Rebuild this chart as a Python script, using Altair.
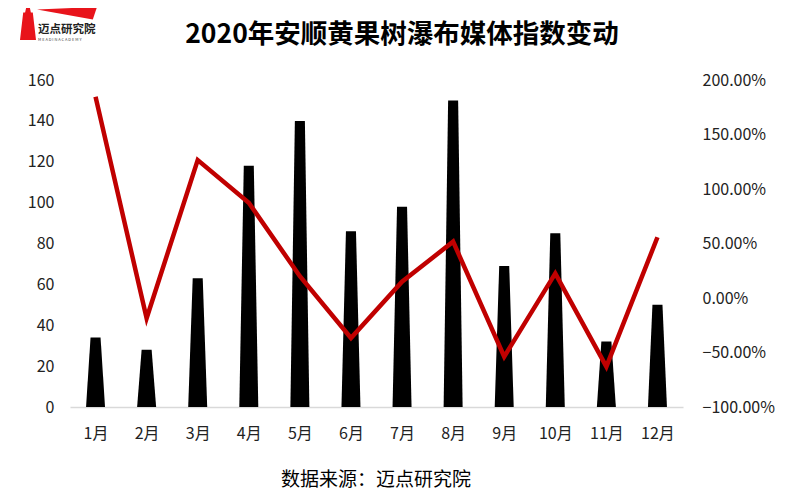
import altair as alt
import pandas as pd

months = ["1月", "2月", "3月", "4月", "5月", "6月", "7月", "8月", "9月", "10月", "11月", "12月"]
media_index = [34, 28, 63, 118, 140, 86, 98, 150, 69, 85, 32, 50]
change_rate = [1.847, -0.186, 1.266, 0.874, 0.20, -0.367, 0.15, 0.517, -0.538, 0.226, -0.63, 0.557]
left_ticks = [0, 20, 40, 60, 80, 100, 120, 140, 160]
right_ticks = [-1.0, -0.5, 0.0, 0.5, 1.0, 1.5, 2.0]

title_text = "2020年安顺黄果树瀑布媒体指数变动"
source_text = "数据来源：迈点研究院"
logo_text = "迈点研究院"

FONT = "Noto Sans CJK SC"
BOTTOM_HALF = 0.186
TOP_HALF = 0.098

idx = list(range(1, len(months) + 1))

# trapezoid bars: two rows per month (base and top)
rows = []
for i, m, v in zip(idx, months, media_index):
    rows.append({"month": m, "y": 0, "left": i - BOTTOM_HALF, "right": i + BOTTOM_HALF})
    rows.append({"month": m, "y": v, "left": i - TOP_HALF, "right": i + TOP_HALF})
bars_df = pd.DataFrame(rows)

line_df = pd.DataFrame({"month": months, "idx": idx, "rate": change_rate})

xscale = alt.Scale(domain=[0.5, 12.5], nice=False, zero=False)


def xaxis():
    return alt.Axis(values=idx, labelExpr="datum.value + '月'", title=None, ticks=False,
                    grid=False, domainColor="#d9d9d9", domainWidth=1.5, labelFontSize=16,
                    labelColor="#222222", labelFont=FONT, labelPadding=18)


bars = alt.Chart(bars_df).mark_area(orient="horizontal", color="#000000").encode(
    y=alt.Y("y:Q", stack=None, scale=alt.Scale(domain=[0, 160], nice=False),
            axis=alt.Axis(values=left_ticks, title=None, ticks=False, domain=False, grid=False,
                          labelFontSize=16, labelColor="#222222", labelFont=FONT, labelPadding=16)),
    x=alt.X("left:Q", stack=None, scale=xscale, axis=xaxis()),
    x2="right:Q",
    detail="month:N",
)

line = alt.Chart(line_df).mark_line(color="#C00000", strokeWidth=4.5).encode(
    x=alt.X("idx:Q", scale=xscale, axis=xaxis()),
    y=alt.Y("rate:Q", scale=alt.Scale(domain=[-1, 2], nice=False),
            axis=alt.Axis(values=right_ticks, format=".2%", orient="right", title=None,
                          ticks=False, domain=False, grid=False, labelFontSize=16,
                          labelColor="#222222", labelFont=FONT, labelPadding=19)),
)

one = pd.DataFrame({"a": [0]})

title = alt.Chart(pd.DataFrame({"t": [title_text]})).mark_text(
    fontSize=26.5, fontWeight="bold", font=FONT, color="#000000", align="center", baseline="middle"
).encode(text="t:N", x=alt.value(332), y=alt.value(-45))

source = alt.Chart(pd.DataFrame({"t": [source_text]})).mark_text(
    fontSize=19, font=FONT, color="#000000", align="center", baseline="middle"
).encode(text="t:N", x=alt.value(306), y=alt.value(400))

logo = alt.Chart(pd.DataFrame({"t": [logo_text]})).mark_text(
    fontSize=11.5, fontWeight="bold", font=FONT, color="#222222", align="left", baseline="middle"
).encode(text="t:N", x=alt.value(-32), y=alt.value(-50))

logo_sub = alt.Chart(pd.DataFrame({"t": ["M E A D I N   A C A D E M Y"]})).mark_text(
    fontSize=4, font=FONT, color="#444444", align="left", baseline="middle"
).encode(text="t:N", x=alt.value(-32), y=alt.value(-40))

swoosh = alt.Chart(one).mark_point(
    shape="M-1,-0.12 L1,-0.2 L0.86,0.22 Z", filled=True, opacity=1, color="#E8141B", size=3600
).encode(x=alt.value(-3), y=alt.value(-67))

tower = alt.Chart(one).mark_point(
    shape="M-0.12,-1 L0.12,-1 L0.18,-0.72 L0.3,-0.72 L0.5,1 L-0.5,1 L-0.3,-0.72 L-0.18,-0.72 Z",
    filled=True, opacity=1, color="#E8141B", size=1024
).encode(x=alt.value(-42), y=alt.value(-56))

chart = alt.layer(bars, line, title, source, logo, logo_sub, swoosh, tower).resolve_scale(
    y="independent"
).properties(
    width=613, height=327,
    autosize=alt.AutoSizeParams(type="none"),
    padding={"left": 62, "top": 72, "right": 109, "bottom": 83},
    background="#ffffff",
).configure_view(stroke=None)

chart.save("out.html", embed_options={"renderer": "svg", "actions": False})
